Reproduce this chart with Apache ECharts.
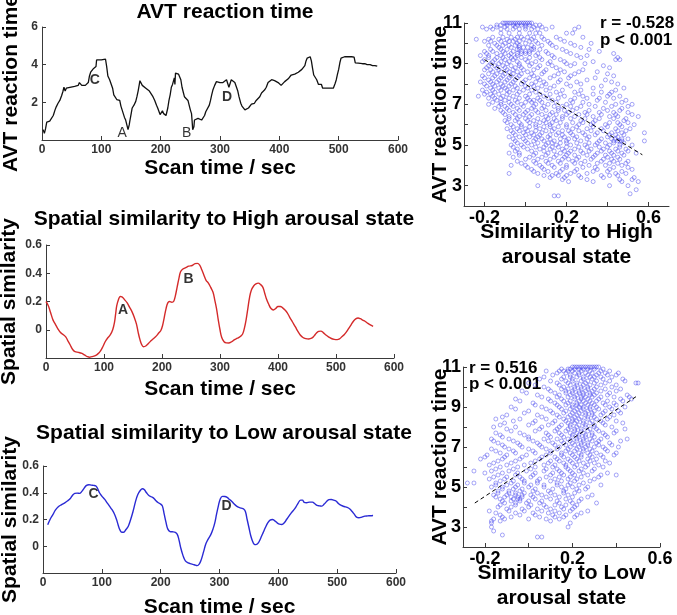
<!DOCTYPE html>
<html>
<head>
<meta charset="utf-8">
<script src="https://cdn.jsdelivr.net/npm/echarts@6/dist/echarts.min.js"></script>
<style>
	html, body { margin: 0; padding: 0; background: #fff; }
	#chart { width: 677px; height: 615px; }
</style>
</head>
<body>
<div id="chart"></div>
<script>
// AVT reaction time over the scan, [sec, value]
const avtSeries = [
	[2,0.55],[4,0.35],[6,0.6],[8,0.95],[10,1.05],[13,1.0],[16,0.97],[19,1.3],[22,1.6],[24,1.76],[27,1.95],[30,2.1],
	[33,2.35],[35,2.55],[37,2.8],[39,2.6],[41,2.75],[44,2.65],[47,2.8],[50,2.85],[55,2.85],[58,2.9],[61,2.9],[63,3.05],
	[65,2.95],[67,2.9],[70,2.95],[73,2.9],[76,3.0],[78,3.05],[80,3.4],[82,3.6],[85,3.65],[87,3.8],[89,3.75],[91,3.9],
	[92,4.25],[96,4.25],[100,4.25],[103,4.28],[107,4.3],[109,3.9],[111,3.4],[114,3.2],[117,3.1],[119,2.75],[121,2.4],
	[123,2.3],[126,2.15],[128,2.1],[131,2.1],[133,1.8],[135,1.6],[137,1.55],[139,1.2],[141,1.06],[143,0.8],[145,0.55],
	[147,0.8],[148,1.0],[150,1.35],[152,1.7],[155,1.85],[158,2.05],[160,2.3],[162,2.6],[164,2.95],[165,3.15],[167,3.05],
	[169,2.9],[172,2.85],[175,2.75],[178,2.7],[181,2.6],[184,2.55],[187,2.3],[190,2.1],[193,1.85],[195,1.7],[197,1.6],
	[199,1.35],[201,1.3],[203,1.55],[205,1.4],[207,1.45],[209,1.3],[210,1.2],[212,1.7],[214,2.1],[216,2.4],[218,2.8],
	[220,2.95],[222,3.0],[223,3.3],[224,2.95],[225,3.55],[227,3.5],[230,3.5],[232,3.5],[234,3.2],[236,2.8],[238,2.55],
	[240,2.3],[243,2.2],[246,2.1],[248,1.85],[250,1.6],[252,1.4],[253,1.0],[254,0.55],[256,0.7],[257,1.06],[260,1.1],
	[263,1.15],[266,1.1],[269,1.06],[271,1.1],[274,1.3],[276,1.5],[279,1.55],[282,1.85],[284,2.1],[286,2.4],[288,2.65],
	[291,2.9],[294,3.1],[297,3.1],[300,3.05],[302,3.1],[305,3.05],[308,3.15],[311,3.2],[313,3.0],[315,2.8],[317,3.0],
	[319,3.2],[322,3.2],[325,3.05],[328,3.0],[330,2.6],[332,2.3],[335,1.95],[337,1.8],[339,1.7],[342,1.6],[345,1.6],
	[348,1.7],[351,1.75],[353,1.9],[356,2.0],[358,1.95],[361,2.1],[364,2.2],[367,2.3],[370,2.5],[372,2.4],[375,2.65],
	[378,2.8],[381,3.05],[384,3.1],[387,3.2],[389,3.25],[392,3.15],[395,3.2],[398,3.05],[401,2.95],[403,2.9],[406,2.95],
	[409,3.1],[412,3.2],[415,3.25],[418,3.35],[420,3.45],[423,3.4],[426,3.5],[429,3.55],[432,3.6],[435,3.65],[438,3.75],
	[441,3.8],[443,3.95],[445,4.2],[447,4.35],[450,4.4],[452,4.42],[454,4.2],[456,3.8],[458,3.45],[460,3.35],[463,3.2],
	[466,2.95],[469,2.85],[471,2.95],[473,2.75],[478,2.75],[485,2.75],[491,2.75],[494,3.0],[496,3.2],[498,3.5],[500,3.75],
	[502,4.1],[504,4.35],[510,4.42],[516,4.42],[522,4.42],[526,4.4],[528,4.1],[533,4.08],[536,4.1],[540,4.05],[544,4.05],
	[548,4.0],[553,4.0],[557,3.95],[561,3.95],[565,3.92],
];

// spatial similarity to the high arousal state
const highSeries = [
	[0,0.2],[4,0.17],[8,0.12],[12,0.07],[16,0.04],[20,0.01],[25,-0.02],[30,-0.035],[34,-0.05],[38,-0.08],[42,-0.11],
	[46,-0.14],[50,-0.155],[56,-0.16],[62,-0.168],[67,-0.18],[71,-0.19],[75,-0.195],[79,-0.19],[84,-0.185],[88,-0.176],
	[91,-0.165],[94,-0.15],[98,-0.12],[102,-0.085],[106,-0.06],[111,-0.035],[115,0.0],[118,0.05],[120,0.11],[122,0.17],
	[125,0.215],[128,0.235],[131,0.233],[135,0.215],[140,0.19],[144,0.16],[148,0.13],[152,0.09],[156,0.04],[159,-0.02],
	[162,-0.07],[165,-0.105],[168,-0.12],[172,-0.115],[177,-0.095],[182,-0.075],[186,-0.06],[190,-0.045],[194,-0.025],
	[198,-0.005],[201,0.03],[204,0.09],[207,0.15],[210,0.19],[213,0.2],[217,0.195],[220,0.2],[223,0.24],[226,0.3],
	[229,0.36],[232,0.41],[236,0.43],[241,0.44],[246,0.45],[252,0.455],[257,0.468],[261,0.47],[265,0.458],[268,0.43],
	[272,0.39],[276,0.35],[280,0.33],[284,0.3],[288,0.265],[291,0.21],[294,0.15],[297,0.07],[300,0.0],[303,-0.055],
	[307,-0.085],[311,-0.093],[315,-0.094],[320,-0.085],[325,-0.07],[330,-0.06],[335,-0.048],[339,-0.03],[342,0.01],
	[345,0.07],[348,0.15],[351,0.23],[354,0.28],[358,0.31],[362,0.325],[366,0.33],[370,0.32],[374,0.3],[377,0.26],
	[380,0.22],[384,0.18],[388,0.15],[392,0.14],[396,0.15],[400,0.165],[404,0.165],[408,0.155],[412,0.14],[416,0.12],
	[420,0.09],[425,0.055],[430,0.02],[434,-0.01],[438,-0.035],[443,-0.055],[448,-0.063],[453,-0.065],[458,-0.06],
	[462,-0.045],[466,-0.025],[470,-0.012],[474,-0.01],[478,-0.02],[482,-0.035],[487,-0.05],[492,-0.062],[497,-0.068],
	[502,-0.07],[506,-0.065],[510,-0.05],[514,-0.035],[518,-0.015],[522,0.01],[526,0.035],[530,0.06],[534,0.077],
	[538,0.083],[542,0.078],[546,0.068],[550,0.06],[555,0.045],[560,0.032],[564,0.024],
];

// spatial similarity to the low arousal state
const lowSeries = [
	[8,0.16],[12,0.2],[17,0.238],[21,0.27],[26,0.295],[31,0.31],[37,0.325],[42,0.34],[46,0.355],[50,0.38],[54,0.395],
	[58,0.397],[62,0.395],[66,0.41],[70,0.435],[74,0.455],[78,0.46],[82,0.457],[86,0.455],[90,0.45],[93,0.43],[96,0.4],
	[100,0.375],[105,0.35],[109,0.325],[113,0.3],[117,0.275],[121,0.245],[125,0.2],[128,0.155],[131,0.12],[134,0.105],
	[137,0.105],[141,0.125],[145,0.15],[149,0.2],[153,0.26],[157,0.33],[161,0.385],[165,0.415],[169,0.43],[172,0.425],
	[176,0.4],[180,0.38],[184,0.37],[188,0.36],[192,0.34],[196,0.325],[200,0.315],[203,0.3],[206,0.24],[209,0.18],
	[212,0.13],[216,0.11],[220,0.108],[224,0.105],[228,0.09],[231,0.05],[234,-0.01],[238,-0.07],[242,-0.11],[247,-0.125],
	[252,-0.132],[257,-0.138],[262,-0.145],[266,-0.13],[269,-0.1],[273,-0.04],[277,0.02],[281,0.055],[285,0.085],
	[289,0.13],[292,0.175],[295,0.24],[298,0.3],[301,0.35],[305,0.373],[309,0.372],[313,0.365],[317,0.35],[321,0.335],
	[325,0.315],[329,0.3],[333,0.29],[337,0.285],[341,0.278],[344,0.26],[347,0.2],[350,0.14],[353,0.08],[356,0.04],
	[359,0.015],[362,0.012],[366,0.025],[370,0.06],[374,0.1],[378,0.14],[382,0.175],[386,0.195],[390,0.2],[394,0.19],
	[398,0.175],[402,0.165],[406,0.163],[410,0.175],[414,0.2],[418,0.225],[422,0.25],[426,0.27],[430,0.295],[434,0.325],
	[438,0.345],[441,0.345],[444,0.328],[448,0.325],[453,0.33],[458,0.33],[462,0.318],[466,0.305],[470,0.302],[474,0.3],
	[478,0.315],[482,0.335],[486,0.348],[490,0.35],[494,0.345],[498,0.338],[502,0.32],[507,0.305],[512,0.297],[517,0.29],
	[521,0.28],[525,0.262],[529,0.24],[533,0.218],[537,0.213],[542,0.218],[547,0.225],[552,0.227],[556,0.228],[561,0.23],
];

// letter marks on the time courses: [letter, sec, value]
const avtMarksBold = [["C", 89, 3.2], ["D", 312, 2.26]];
const avtMarksPlain = [["A", 135, 0.37], ["B", 244, 0.37]];
const highMarks = [["A", 133, 0.14], ["B", 246, 0.36]];
const lowMarks = [["C", 86, 0.39], ["D", 312, 0.3]];

// scatter: similarity to high arousal state vs reaction time, grouped by reaction time rows
const highRowY = [11, 10.8, 10.5, 10.2, 10, 9.8, 9.6, 9.4, 9.2, 9, 8.8, 8.6, 8.4, 8.2, 8, 7.8, 7.6, 7.4, 7.2, 7, 6.8,
	6.6, 6.4, 6.2, 6, 5.8, 5.6, 5.4, 5.2, 5, 4.8, 4.6, 4.4, 4.2, 4, 3.8, 3.6, 3.4, 3.2, 3, 2.8, 2.6, 2.5];
const highRowX = [
	[-0.11,-0.1,-0.09,-0.08,-0.07,-0.06,-0.05,-0.04,-0.03,-0.02,-0.01,0,0.01,0.02,0.03],
	[-0.21,-0.17,-0.14,-0.1,-0.05,0.0,0.04,0.08,0.13,0.26],
	[-0.12,-0.08,-0.03,0.02,0.05,0.07,0.2,0.23],
	[-0.24,-0.18,-0.13,-0.09,-0.05,-0.01,0.03,0.09,0.17],
	[-0.15,-0.1,-0.04,0.0,0.06,0.12,0.22,0.32],
	[-0.13,-0.07,-0.03,-0.01,0.01,0.04,0.15,0.27],
	[-0.2,-0.16,-0.11,-0.06,-0.02,0.0,0.02,0.1,0.2,0.36],
	[-0.22,-0.18,-0.12,-0.08,-0.04,0.05,0.13,0.25,0.3],
	[-0.2,-0.15,-0.1,-0.06,0.0,0.08,0.17,0.44,0.46],
	[-0.17,-0.13,-0.09,-0.03,0.03,0.11,0.2,0.24,0.29],
	[-0.19,-0.14,-0.1,-0.05,-0.02,0.06,0.15,0.41],
	[-0.16,-0.12,-0.08,-0.04,0.01,0.09,0.19,0.26,0.35],
	[-0.21,-0.15,-0.11,-0.07,-0.03,0.04,0.14,0.22,0.43],
	[-0.18,-0.13,-0.09,-0.05,0.0,0.07,0.17,0.3,0.39],
	[-0.2,-0.16,-0.12,-0.07,-0.02,0.03,0.1,0.2,0.27,0.45],
	[-0.17,-0.13,-0.1,-0.04,0.01,0.06,0.12,0.33,0.48],
	[-0.19,-0.15,-0.08,-0.03,0.05,0.15,0.24,0.37,0.42],
	[-0.23,-0.16,-0.11,-0.06,0.0,0.09,0.19,0.28,0.4,0.46],
	[-0.14,-0.1,-0.05,0.02,0.04,0.07,0.13,0.22,0.35,0.49],
	[-0.18,-0.12,-0.07,-0.02,0.05,0.11,0.2,0.31,0.44,0.52],
	[-0.15,-0.09,-0.04,0.03,0.08,0.16,0.25,0.38,0.47],
	[-0.11,-0.06,0.0,0.06,0.13,0.21,0.29,0.36,0.43,0.5],
	[-0.08,-0.03,0.02,0.1,0.18,0.24,0.33,0.41,0.45,0.55],
	[-0.1,-0.05,0.01,0.04,0.09,0.15,0.27,0.34,0.48],
	[-0.07,-0.02,0.05,0.12,0.2,0.26,0.32,0.39,0.46,0.53],
	[-0.09,-0.04,0.0,0.07,0.14,0.23,0.3,0.37,0.44,0.51],
	[-0.06,-0.01,0.03,0.08,0.16,0.22,0.28,0.35,0.42,0.47,0.58],
	[-0.08,-0.03,0.02,0.06,0.11,0.19,0.25,0.31,0.4,0.45],
	[-0.05,0.0,0.04,0.09,0.14,0.2,0.27,0.36,0.43,0.45,0.46,0.47,0.58],
	[-0.07,-0.02,0.03,0.1,0.15,0.22,0.29,0.34,0.41,0.46,0.52],
	[-0.04,0.01,0.07,0.12,0.18,0.24,0.32,0.38,0.44,0.49],
	[-0.08,-0.03,0.05,0.11,0.17,0.21,0.28,0.35,0.42,0.47,0.54],
	[-0.06,0.02,0.08,0.14,0.19,0.26,0.33,0.4,0.45],
	[-0.04,0.04,0.1,0.16,0.23,0.29,0.37,0.43,0.5],
	[-0.07,0.0,0.07,0.13,0.2,0.31,0.39,0.47],
	[0.03,0.09,0.18,0.25,0.35,0.41,0.52],
	[-0.08,0.06,0.15,0.22,0.3,0.44,0.49],
	[0.12,0.19,0.27,0.38,0.53],
	[0.21,0.33,0.47,0.55],
	[0.06,0.41,0.5],
	[0.54],
	[0.51],
	[0.14,0.16],
];
// in-between rows of the same cloud
const highMidY = [10.9, 10.7, 10.3, 10.1, 9.9, 9.7, 9.5, 9.3, 9.1, 8.9, 8.7, 8.5, 8.3, 8.1, 7.9, 7.7, 7.5, 7.3, 7.1,
	6.9, 6.7, 6.5, 6.3, 6.1, 5.9, 5.7, 5.5, 5.3, 5.1, 4.9, 4.7, 4.5, 4.3, 4.1, 3.9, 3.7, 3.5, 3.3];
const highMidX = [
	[-0.14,-0.12,-0.09,-0.06,-0.04,-0.02,0.0,0.02,0.05,0.07],
	[-0.19,-0.16,-0.12,-0.09,-0.06,-0.03,0.0,0.03,0.06,0.1,0.24],
	[-0.16,-0.11,-0.07,-0.04,-0.02,0.01,0.04,0.08,0.15,0.28],
	[-0.2,-0.17,-0.12,-0.08,-0.06,-0.03,0.02,0.05,0.11,0.19],
	[-0.18,-0.14,-0.11,-0.08,-0.05,-0.03,0.03,0.08,0.13,0.24],
	[-0.17,-0.12,-0.09,-0.04,-0.03,0.03,0.04,0.07,0.18,0.31],
	[-0.19,-0.14,-0.1,-0.07,-0.04,-0.02,0.0,0.02,0.06,0.11,0.22,0.43],
	[-0.18,-0.14,-0.11,-0.07,-0.05,-0.02,0.02,0.07,0.14,0.27,0.45],
	[-0.21,-0.16,-0.12,-0.08,-0.04,0.01,0.05,0.12,0.19,0.33],
	[-0.18,-0.15,-0.11,-0.07,-0.03,0.02,0.07,0.13,0.22,0.38],
	[-0.2,-0.17,-0.13,-0.09,-0.06,-0.01,0.04,0.1,0.17,0.28],
	[-0.18,-0.14,-0.1,-0.06,-0.02,0.03,0.08,0.16,0.24,0.4],
	[-0.2,-0.16,-0.12,-0.08,-0.04,0.02,0.06,0.12,0.21,0.34],
	[-0.22,-0.17,-0.14,-0.1,-0.06,-0.01,0.05,0.09,0.16,0.25,0.42],
	[-0.19,-0.15,-0.11,-0.08,-0.05,0.0,0.04,0.08,0.14,0.22,0.37],
	[-0.21,-0.16,-0.12,-0.09,-0.06,-0.01,0.03,0.1,0.18,0.27,0.44],
	[-0.2,-0.17,-0.13,-0.09,-0.04,0.02,0.07,0.12,0.17,0.26,0.33,0.41],
	[-0.18,-0.15,-0.12,-0.08,-0.03,0.01,0.06,0.11,0.16,0.24,0.3,0.36,0.43],
	[-0.16,-0.12,-0.08,-0.04,0.0,0.03,0.08,0.15,0.23,0.28,0.39,0.47],
	[-0.13,-0.1,-0.06,-0.01,0.04,0.09,0.14,0.18,0.22,0.27,0.34,0.42,0.5],
	[-0.12,-0.08,-0.03,0.01,0.05,0.1,0.16,0.19,0.23,0.31,0.4,0.46],
	[-0.1,-0.05,-0.01,0.03,0.08,0.12,0.15,0.2,0.26,0.3,0.37,0.44,0.52],
	[-0.08,-0.04,0.0,0.06,0.11,0.14,0.18,0.22,0.29,0.36,0.43,0.49],
	[-0.09,-0.03,0.02,0.07,0.1,0.13,0.17,0.23,0.28,0.33,0.41,0.45,0.5],
	[-0.06,-0.02,0.02,0.05,0.09,0.12,0.16,0.2,0.25,0.33,0.4,0.47],
	[-0.07,-0.03,0.01,0.05,0.1,0.13,0.18,0.21,0.26,0.32,0.38,0.45,0.49],
	[-0.05,0.0,0.04,0.07,0.12,0.15,0.18,0.23,0.29,0.34,0.41,0.44,0.48],
	[-0.06,-0.01,0.05,0.08,0.12,0.17,0.21,0.24,0.3,0.37,0.42,0.44,0.47,0.5],
	[-0.04,0.01,0.06,0.11,0.13,0.17,0.2,0.25,0.31,0.35,0.39,0.43,0.48],
	[-0.06,-0.01,0.05,0.09,0.13,0.16,0.2,0.26,0.3,0.36,0.4,0.46],
	[-0.05,0.03,0.09,0.14,0.19,0.22,0.27,0.31,0.37,0.41,0.45,0.5],
	[-0.03,0.04,0.1,0.15,0.2,0.24,0.3,0.34,0.39,0.43,0.48],
	[0.0,0.06,0.12,0.18,0.21,0.25,0.32,0.38,0.42,0.46],
	[-0.02,0.05,0.11,0.17,0.24,0.27,0.35,0.41,0.45,0.49],
	[0.01,0.08,0.14,0.2,0.28,0.34,0.43,0.5],
	[0.04,0.11,0.17,0.24,0.33,0.4,0.47],
	[0.09,0.13,0.16,0.2,0.26,0.37,0.41,0.45],
	[0.18,0.3,0.46,0.52],
];
const highFit = [[-0.2, 9.2], [0.57, 4.52]];

// scatter: similarity to low arousal state vs reaction time
const lowRowY = [11, 10.8, 10.6, 10.4, 10.2, 10, 9.8, 9.6, 9.4, 9.2, 9, 8.8, 8.6, 8.4, 8.2, 8, 7.8, 7.6, 7.4, 7.2, 7,
	6.8, 6.6, 6.4, 6.2, 6, 5.8, 5.6, 5.4, 5.2, 5, 4.8, 4.6, 4.4, 4.2, 4, 3.8, 3.6, 3.4, 3.2, 3, 2.8, 2.6, 2.5];
const lowRowX = [
	[0.2,0.21,0.22,0.23,0.24,0.25,0.26,0.27,0.28,0.29,0.3,0.31,0.32],
	[0.08,0.14,0.16,0.18,0.2,0.24,0.28,0.33,0.37],
	[0.11,0.19,0.23,0.27,0.31,0.36,0.4],
	[0.05,0.15,0.2,0.25,0.29,0.34,0.43],
	[0.0,0.13,0.18,0.22,0.26,0.3,0.35,0.49,0.5],
	[0.07,0.16,0.21,0.24,0.27,0.31,0.38],
	[-0.03,0.1,0.17,0.2,0.23,0.26,0.29,0.33,0.4],
	[0.04,0.14,0.19,0.22,0.25,0.28,0.3,0.36,0.45],
	[-0.06,0.09,0.15,0.21,0.24,0.27,0.32,0.42,0.47],
	[0.02,0.12,0.18,0.22,0.26,0.29,0.34,0.39],
	[-0.08,0.06,0.14,0.2,0.23,0.25,0.28,0.31,0.37,0.44],
	[0.0,0.1,0.17,0.21,0.24,0.27,0.3,0.35,0.41],
	[-0.1,0.04,0.13,0.19,0.22,0.26,0.29,0.33,0.39],
	[-0.15,-0.04,0.08,0.16,0.2,0.23,0.27,0.31,0.36],
	[-0.11,0.02,0.11,0.18,0.21,0.25,0.28,0.34,0.43],
	[-0.16,-0.06,0.06,0.14,0.19,0.22,0.26,0.3,0.38],
	[-0.08,0.03,0.12,0.17,0.21,0.24,0.27,0.32,0.4],
	[-0.13,-0.02,0.09,0.15,0.2,0.23,0.26,0.29,0.35],
	[-0.17,-0.09,0.0,0.07,0.13,0.18,0.22,0.25,0.28,0.33,0.45],
	[-0.14,-0.05,0.04,0.11,0.16,0.2,0.24,0.27,0.31,0.37],
	[-0.11,-0.03,0.06,0.14,0.19,0.23,0.26,0.3,0.34,0.41],
	[-0.15,-0.07,0.02,0.1,0.17,0.21,0.25,0.29,0.36],
	[-0.19,-0.1,-0.01,0.08,0.15,0.2,0.24,0.28,0.33,0.39],
	[-0.22,-0.12,-0.04,0.05,0.13,0.18,0.22,0.27,0.31],
	[-0.16,-0.08,0.01,0.09,0.16,0.2,0.25,0.3,0.37],
	[-0.13,-0.05,0.03,0.11,0.17,0.21,0.26,0.34],
	[-0.25,-0.17,-0.09,-0.01,0.07,0.14,0.19,0.23,0.29],
	[-0.14,-0.06,0.02,0.1,0.16,0.21,0.27,0.33,0.4],
	[-0.18,-0.11,-0.03,0.05,0.12,0.18,0.22,0.3],
	[-0.28,-0.25,-0.15,-0.08,-0.02,0.04,0.13,0.19,0.25],
	[-0.17,-0.12,-0.06,0.0,0.07,0.15,0.2,0.27],
	[-0.14,-0.09,-0.04,0.02,0.09,0.16,0.23],
	[-0.16,-0.1,-0.06,-0.03,0.01,0.06,0.12,0.18,0.29],
	[-0.13,-0.07,-0.05,-0.04,0.03,0.1,0.17,0.24],
	[-0.11,-0.06,-0.01,0.05,0.14,0.2,0.31],
	[-0.14,-0.08,0.0,0.08,0.15,0.21],
	[-0.18,-0.09,-0.02,0.06,0.12,0.19,0.27],
	[-0.13,-0.04,0.03,0.11,0.17,0.22],
	[-0.16,-0.11,0.0,0.08,0.14],
	[-0.17,0.19],
	[-0.17,0.18],
	[-0.16],
	[-0.12],
	[0.04,0.06],
];
const lowMidY = [10.9, 10.7, 10.5, 10.3, 10.1, 9.9, 9.7, 9.5, 9.3, 9.1, 8.9, 8.7, 8.5, 8.3, 8.1, 7.9, 7.7, 7.5, 7.3,
	7.1, 6.9, 6.7, 6.5, 6.3, 6.1, 5.9, 5.7, 5.5, 5.3, 5.1, 4.9, 4.7, 4.5, 4.3, 4.1, 3.9, 3.7, 3.5, 3.3];
const lowMidX = [
	[0.15,0.18,0.19,0.21,0.23,0.25,0.27,0.3,0.34],
	[0.13,0.17,0.21,0.23,0.26,0.29,0.32,0.35,0.41],
	[0.07,0.16,0.19,0.22,0.25,0.28,0.3,0.33,0.38],
	[0.1,0.17,0.2,0.24,0.27,0.31,0.37,0.44],
	[0.03,0.14,0.19,0.22,0.25,0.28,0.33,0.4],
	[0.09,0.15,0.18,0.21,0.24,0.27,0.3,0.35,0.42],
	[-0.01,0.12,0.17,0.2,0.23,0.25,0.28,0.31,0.37],
	[0.06,0.13,0.18,0.21,0.24,0.26,0.29,0.33,0.39,0.46],
	[-0.04,0.1,0.16,0.19,0.23,0.25,0.28,0.31,0.36,0.43],
	[0.03,0.13,0.17,0.2,0.22,0.24,0.27,0.3,0.35,0.4],
	[-0.06,0.08,0.15,0.19,0.22,0.25,0.28,0.32,0.38],
	[-0.02,0.11,0.16,0.2,0.23,0.26,0.29,0.34,0.42],
	[-0.12,0.06,0.14,0.18,0.21,0.24,0.27,0.3,0.37],
	[-0.07,0.03,0.12,0.17,0.2,0.22,0.25,0.29,0.33,0.4],
	[-0.13,0.0,0.09,0.15,0.19,0.23,0.26,0.3,0.35],
	[-0.1,0.05,0.13,0.18,0.21,0.24,0.28,0.31,0.44],
	[-0.15,-0.04,0.08,0.14,0.19,0.22,0.25,0.29,0.34,0.39],
	[-0.12,0.0,0.1,0.16,0.2,0.23,0.26,0.3,0.36],
	[-0.16,-0.07,0.02,0.09,0.15,0.19,0.22,0.25,0.29,0.32,0.42],
	[-0.12,-0.04,0.05,0.12,0.17,0.21,0.24,0.27,0.32,0.38],
	[-0.17,-0.09,0.0,0.08,0.13,0.18,0.22,0.25,0.28,0.35],
	[-0.13,-0.06,0.03,0.1,0.15,0.19,0.23,0.27,0.31,0.4],
	[-0.2,-0.11,-0.03,0.06,0.12,0.16,0.21,0.24,0.29,0.34],
	[-0.14,-0.06,0.03,0.1,0.14,0.19,0.23,0.28,0.35],
	[-0.18,-0.1,-0.02,0.07,0.12,0.17,0.22,0.27,0.32],
	[-0.15,-0.07,0.01,0.08,0.13,0.18,0.24,0.3],
	[-0.2,-0.12,-0.05,0.03,0.11,0.15,0.2,0.25,0.36],
	[-0.16,-0.1,-0.04,0.01,0.08,0.14,0.19,0.24,0.32],
	[-0.13,-0.07,-0.02,0.04,0.1,0.15,0.21,0.28],
	[-0.15,-0.1,-0.05,0.01,0.07,0.13,0.18,0.23,0.33],
	[-0.12,-0.07,-0.03,0.03,0.11,0.17,0.22,0.26],
	[-0.14,-0.09,-0.06,-0.02,0.04,0.1,0.16,0.21],
	[-0.15,-0.11,-0.08,-0.05,-0.03,0.02,0.08,0.14,0.2,0.27],
	[-0.12,-0.08,-0.04,0.0,0.06,0.13,0.19,0.23],
	[-0.13,-0.06,0.01,0.07,0.12,0.17,0.22],
	[-0.1,-0.03,0.04,0.1,0.16,0.2],
	[-0.15,-0.06,0.02,0.09,0.14,0.24],
	[-0.12,-0.08,0.05,0.12,0.16,0.21],
	[-0.17,-0.13,0.1],
];
const lowFit = [[-0.246, 4.2], [0.498, 9.57]];

const timeTicks = [0, 600, 100];
const scatterXLabels = [-0.2, 0.2, 0.6];
const scatterXTicks = [-0.2, 0, 0.2, 0.4, 0.6];
const scatterYLabels = [3, 5, 7, 9, 11];
const scatterYTicks = [3, 4, 5, 6, 7, 8, 9, 10, 11];

const rowsToPoints = (ys, xs) => {
	const pts = [];
	for (let i = 0; i < ys.length; i++)
		for (const x of xs[i])
			pts.push([x, ys[i]]);
	return pts;
};

const FONT = "'Liberation Sans', Arial, sans-serif";
const AXIS_COLOR = "#3a3a3a";

const nameStyle = { fontFamily: FONT, fontWeight: "bold", fontSize: 21, color: "#000" };

const timeXAxis = (gridIndex, nameGap) => ({
	type            : "value",
	gridIndex,
	min             : timeTicks[0],
	max             : timeTicks[1],
	interval        : timeTicks[2],
	name            : "Scan time / sec",
	nameLocation    : "middle",
	nameGap,
	nameMoveOverlap : false,
	nameTextStyle   : nameStyle,
	axisLine        : { show: true, onZero: false, lineStyle: { color: AXIS_COLOR, width: 1 } },
	axisTick        : { show: true, inside: true, length: 4, lineStyle: { color: AXIS_COLOR } },
	axisLabel       : { fontFamily: FONT, fontWeight: "bold", fontSize: 12, color: "#333", margin: 4 },
	splitLine       : { show: false },
});

const timeYAxis = (gridIndex, min, max, interval, name, nameGap) => ({
	type            : "value",
	gridIndex,
	min,
	max,
	interval,
	name,
	nameLocation    : "middle",
	nameGap,
	nameMoveOverlap : false,
	nameTextStyle   : nameStyle,
	axisLine        : { show: true, lineStyle: { color: AXIS_COLOR, width: 1 } },
	axisTick        : { show: true, inside: true, length: 4, lineStyle: { color: AXIS_COLOR } },
	axisLabel       : { fontFamily: FONT, fontWeight: "bold", fontSize: 12, color: "#333", margin: 4, showMinLabel: false },
	splitLine       : { show: false },
});

const scatterXAxis = (gridIndex, max, name, nameGap) => ({
	type            : "value",
	gridIndex,
	min             : -0.3,
	max,
	name,
	nameLocation    : "middle",
	nameGap,
	nameMoveOverlap : false,
	nameTextStyle   : Object.assign({ lineHeight: 25, verticalAlign: "top" }, nameStyle),
	axisLine        : { show: true, onZero: false, lineStyle: { color: AXIS_COLOR, width: 1 } },
	axisTick        : { show: true, inside: true, length: 4, customValues: scatterXTicks, lineStyle: { color: AXIS_COLOR } },
	axisLabel       : { fontFamily: FONT, fontWeight: "bold", fontSize: 18, color: "#000", margin: 3, customValues: scatterXLabels },
	splitLine       : { show: false },
});

const scatterYAxis = (gridIndex, nameGap) => ({
	type            : "value",
	gridIndex,
	min             : 2,
	max             : 11,
	name            : "AVT reaction time",
	nameLocation    : "middle",
	nameGap,
	nameMoveOverlap : false,
	nameTextStyle   : nameStyle,
	axisLine        : { show: true, onZero: false, lineStyle: { color: AXIS_COLOR, width: 1 } },
	axisTick        : { show: true, inside: true, length: 4, customValues: scatterYTicks, lineStyle: { color: AXIS_COLOR } },
	axisLabel       : { fontFamily: FONT, fontWeight: "bold", fontSize: 18, color: "#000", margin: 2, customValues: scatterYLabels },
	splitLine       : { show: false },
});

const markSeries = (xIndex, marks, weight) => ({
	type       : "scatter",
	xAxisIndex : xIndex,
	yAxisIndex : xIndex,
	symbolSize : 0,
	silent     : true,
	data       : marks.map(m => ({ value: [m[1], m[2]], name: m[0] })),
	label      : {
		show       : true,
		position   : "inside",
		formatter  : p => p.name,
		fontFamily : FONT,
		fontSize   : 14,
		fontWeight : weight,
		color      : "#000",
	},
});

const dotStyle = {
	color       : "rgba(255,255,255,0)",
	borderColor : "rgba(35,35,235,0.5)",
	borderWidth : 1,
};

const dots = (index, pts) => ({
	type       : "scatter",
	xAxisIndex : index,
	yAxisIndex : index,
	symbol     : "circle",
	symbolSize : 4,
	data       : pts,
	itemStyle  : dotStyle,
});

const chart = echarts.init(document.getElementById("chart"), null, { renderer: "canvas" });

chart.setOption({
	animation       : false,
	backgroundColor : "#fff",
	grid            : [
		{ left: 42, top: 27, width: 356, height: 113, outerBoundsMode: "none" },
		{ left: 46, top: 245, width: 348, height: 113, outerBoundsMode: "none" },
		{ left: 43, top: 466, width: 353, height: 107, outerBoundsMode: "none" },
		{ left: 464, top: 23, width: 205, height: 183, outerBoundsMode: "none" },
		{ left: 463, top: 367, width: 197, height: 180, outerBoundsMode: "none" },
	],
	xAxis: [
		timeXAxis(0, 18),
		timeXAxis(1, 21),
		timeXAxis(2, 24),
		scatterXAxis(3, 0.7, "Similarity to High\narousal state", 14),
		scatterXAxis(4, 0.6, "Similarity to Low\narousal state", 14),
	],
	yAxis: [
		timeYAxis(0, 0, 6, 2, "AVT reaction time", 20),
		timeYAxis(1, -0.2, 0.6, 0.2, "Spatial similarity", 26),
		timeYAxis(2, -0.2, 0.6, 0.2, "Spatial similarity", 22),
		scatterYAxis(3, 13),
		scatterYAxis(4, 12),
	],
	series: [
		{
			type       : "line",
			xAxisIndex : 0,
			yAxisIndex : 0,
			showSymbol : false,
			data       : avtSeries,
			lineStyle  : { color: "#111", width: 1.3 },
		},
		{
			type       : "line",
			xAxisIndex : 1,
			yAxisIndex : 1,
			showSymbol : false,
			smooth     : 0.4,
			data       : highSeries,
			lineStyle  : { color: "#d42a2a", width: 1.4 },
		},
		{
			type       : "line",
			xAxisIndex : 2,
			yAxisIndex : 2,
			showSymbol : false,
			smooth     : 0.4,
			data       : lowSeries,
			lineStyle  : { color: "#2a2ad4", width: 1.4 },
		},
		markSeries(0, avtMarksBold, "bold"),
		markSeries(0, avtMarksPlain, "normal"),
		markSeries(1, highMarks, "bold"),
		markSeries(2, lowMarks, "bold"),
		dots(3, rowsToPoints(highRowY, highRowX).concat(rowsToPoints(highMidY, highMidX))),
		dots(4, rowsToPoints(lowRowY, lowRowX).concat(rowsToPoints(lowMidY, lowMidX))),
		{
			type       : "line",
			xAxisIndex : 3,
			yAxisIndex : 3,
			showSymbol : false,
			data       : highFit,
			lineStyle  : { color: "#000", width: 1, type: [4, 3] },
		},
		{
			type       : "line",
			xAxisIndex : 4,
			yAxisIndex : 4,
			showSymbol : false,
			data       : lowFit,
			lineStyle  : { color: "#000", width: 1, type: [4, 3] },
		},
	],
	graphic: [
		{ type: "text", x: 225, y: 12, style: { text: "AVT reaction time", font: `bold 21px ${FONT}`, fill: "#000", align: "center", verticalAlign: "middle" } },
		{ type: "text", x: 224, y: 219, style: { text: "Spatial similarity to High arousal state", font: `bold 21px ${FONT}`, fill: "#000", align: "center", verticalAlign: "middle" } },
		{ type: "text", x: 224, y: 433, style: { text: "Spatial similarity to Low arousal state", font: `bold 21px ${FONT}`, fill: "#000", align: "center", verticalAlign: "middle" } },
		{ type: "text", x: 600, y: 23, style: { text: "r = -0.528", font: `bold 17px ${FONT}`, fill: "#000", verticalAlign: "middle" } },
		{ type: "text", x: 600, y: 40, style: { text: "p < 0.001", font: `bold 17px ${FONT}`, fill: "#000", verticalAlign: "middle" } },
		{ type: "text", x: 469, y: 368, style: { text: "r = 0.516", font: `bold 17px ${FONT}`, fill: "#000", verticalAlign: "middle" } },
		{ type: "text", x: 469, y: 384, style: { text: "p < 0.001", font: `bold 17px ${FONT}`, fill: "#000", verticalAlign: "middle" } },
	],
});
</script>
</body>
</html>
